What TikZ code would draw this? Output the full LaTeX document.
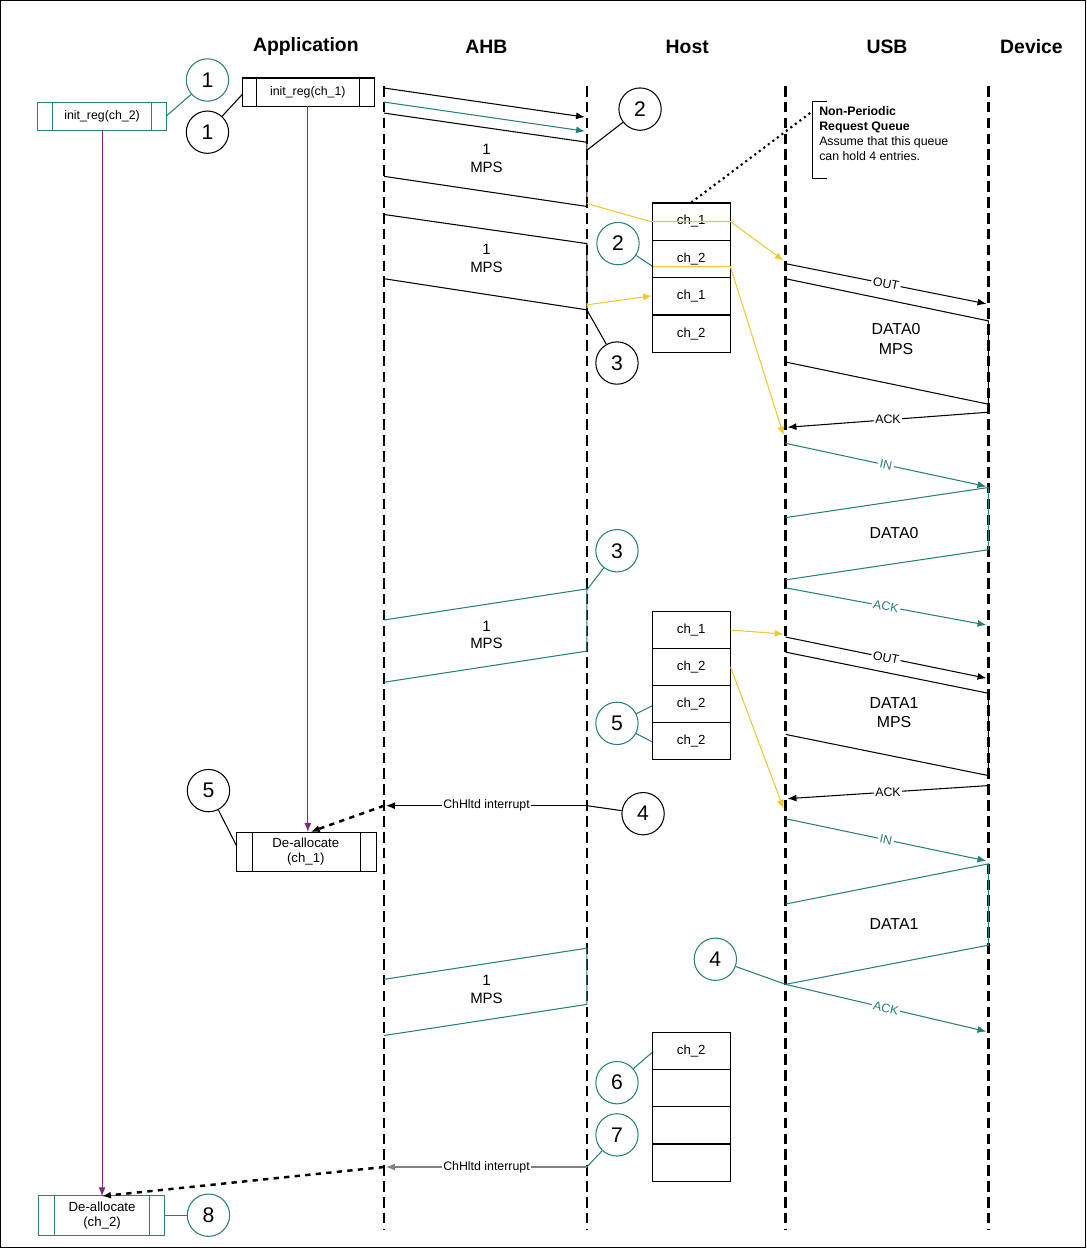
\documentclass[tikz,border=0pt]{standalone}
\usepackage{fontspec}
\setmainfont{Liberation Sans}
\usetikzlibrary{arrows.meta}
\definecolor{tealc}{RGB}{40,128,122}
\definecolor{yelc}{RGB}{240,200,50}
\definecolor{purc}{RGB}{128,40,128}
\begin{document}
\begin{tikzpicture}[x=0.02cm,y=-0.02cm,>={Latex[length=5pt,width=4pt]},line width=0.6pt]
	\tikzstyle{lifeline}=[dashed,line width=1.4pt,dash pattern=on 6pt off 3pt]
	\tikzstyle{head}=[font=\fontsize{11}{13}\selectfont\bfseries]
	\tikzstyle{num}=[circle,draw,minimum size=24pt,inner sep=0pt,font=\fontsize{12}{14}\selectfont]
	\tikzstyle{lbl}=[font=\fontsize{8.5}{10}\selectfont,align=center]
	\tikzstyle{small}=[font=\fontsize{7}{8}\selectfont,fill=white,inner sep=1pt]
	\tikzstyle{cell}=[draw,minimum width=44pt,minimum height=21pt,inner sep=0pt,font=\fontsize{7.5}{9}\selectfont]
	\tikzstyle{yel}=[draw=yelc,->,>={Latex[length=5pt,width=4pt]},yelc]

	\draw[line width=0.8pt] (3,3) rectangle (1084,1245);

	% lane headers and lifelines
	\node[head] (hApp) at (307,49) {Application};
	\foreach \name/\x in {AHB/385,Host/587,USB/785,Dev/987}
	\draw[lifeline] (\x,88) coordinate (\name-t) -- (\x,1228) coordinate (\name-b);
	\node[head] (hAHB) at (487,49) {AHB};
	\node[head] (hHost) at (687,49) {Host};
	\node[head] (hUSB) at (886,49) {USB};
	\node[head] (hDev) at (1030,49) {Device};

	% application boxes
	\draw[tealc] (40,104) rectangle (168,132) (55,104) -- (55,132) (153,104) -- (153,132);
	\node[small,fill=none] (ir2) at (104,118) {init\_reg(ch\_2)};
	\draw (244,80) rectangle (375,108) (258,80) -- (258,108) (360,80) -- (360,108);
	\node[small,fill=none] (ir1) at (309,94) {init\_reg(ch\_1)};
	\draw (238,832) rectangle (377,871) (254,832) -- (254,871) (361,832) -- (361,871);
	\node[lbl,font=\fontsize{7.5}{8.5}\selectfont] (da1) at (307,851) {De-allocate\\(ch\_1)};
	\draw[tealc] (41,1193) rectangle (166,1233) (57,1193) -- (57,1233) (151,1193) -- (151,1233);
	\node[lbl,font=\fontsize{7.5}{8.5}\selectfont] (da2) at (104,1213) {De-allocate\\(ch\_2)};
	\draw[purc,->] (104,132) -- (104,1194);
	\draw[purc,->] (309,108) -- (309,831);

	% numbered circles
	\node[num,draw=tealc] (c1t) at (209,82) {1};
	\node[num] (c1b) at (209,134) {1};
	\node[num] (c2b) at (640,111) {2};
	\node[num] (c3b) at (617,364) {3};
	\node[num,draw=tealc] (c2t) at (618,245) {2};
	\node[num,draw=tealc] (c3t) at (617,551) {3};
	\node[num,draw=tealc] (c5t) at (617,723) {5};
	\node[num] (c4b) at (643,813) {4};
	\node[num] (c5b) at (210,790) {5};
	\node[num,draw=tealc] (c4t) at (715,958) {4};
	\node[num,draw=tealc] (c6t) at (617,1081) {6};
	\node[num,draw=tealc] (c7t) at (617,1133) {7};
	\node[num,draw=tealc] (c8t) at (210,1213) {8};
	\draw[tealc] (c1t) -- (168,118);
	\draw (c1b) -- (244,96);
	\draw (c2b) -- (587,152);
	\draw (c3b) -- (587,311);
	\draw[tealc] (c2t) -- (653,268);
	\draw[tealc] (c3t) -- (587,590);
	\draw[tealc] (c5t) -- (653,705) (c5t) -- (653,742);
	\draw (c5b) -- (238,845);
	\draw[tealc] (c6t) -- (653,1050);
	\draw[tealc] (c7t) -- (587,1165);
	\draw[tealc] (c8t) -- (166,1213);

	% AHB transfers
	\draw[->] (385,90) -- (585,119);
	\draw[tealc,->] (385,104) -- (585,133);
	\draw (385,115) -- (587,144) -- (587,208) -- (385,178);
	\node[lbl] (m1) at (487,160) {1\\MPS};
	\draw (385,216) -- (587,245) -- (587,311) -- (385,280);
	\node[lbl] (m2) at (487,260) {1\\MPS};
	\draw[tealc] (385,620) -- (587,589) -- (587,651) -- (385,682);
	\node[lbl] (m3) at (487,635) {1\\MPS};
	\draw[tealc] (385,978) -- (587,947) -- (587,1003) -- (385,1034);
	\node[lbl] (m4) at (487,988) {1\\MPS};

	% request queues
	\foreach \name/\y/\t in {q1/223/ch\_1,q2/260/ch\_2,q3/297/ch\_1,q4/335/ch\_2,
		r1/630/ch\_1,r2/667/ch\_2,r3/704/ch\_2,r4/741/ch\_2,
		s1/1049/ch\_2,s2/1086/,s3/1123/,s4/1161/}
	\node[cell] (\name) at (691,\y) {\t};
	\draw[dotted,line width=1.2pt] (q1.north) -- (812,113);
	\draw (826,103) -- (812,103) -- (812,180) -- (826,180);
	\node[anchor=north west,inner sep=0pt,font=\fontsize{7}{8.5}\selectfont,align=left] (note) at (818,108)
	{\textbf{Non-Periodic}\\\textbf{Request Queue}\\Assume that this queue\\can hold 4 entries.};

	% yellow scheduling
	\draw[yel] (587,205) -- (650,223) -- (730,223) -- (783,262);
	\draw[yel] (653,268) -- (730,268) -- (783,436);
	\draw[yel] (587,306) -- (q3.west);
	\draw[yel] (r1.east) -- (783,634);
	\draw[yel] (r2.east) -- (783,808);

	% USB traffic
	\draw[->] (785,265) -- node[small,sloped] {OUT} (985,305);
	\draw (785,280) -- (987,322) -- (987,405) -- (785,363);
	\node[lbl,font=\fontsize{9}{11}\selectfont] (d0) at (895,340) {DATA0\\MPS};
	\draw[->] (987,413) -- node[small] {ACK} (787,428);
	\draw[tealc,->] (785,444) -- node[small,sloped] {IN} (985,487);
	\draw[tealc] (785,518) -- (987,488) -- (987,550) -- (785,580);
	\node[lbl,font=\fontsize{9}{11}\selectfont] (d0b) at (893,533) {DATA0};
	\draw[tealc,->] (785,588) -- node[small,sloped] {ACK} (985,625);
	\draw[->] (785,637) -- node[small,sloped] {OUT} (985,678);
	\draw (785,652) -- (987,693) -- (987,775) -- (785,734);
	\node[lbl,font=\fontsize{9}{11}\selectfont] (d1) at (893,712) {DATA1\\MPS};
	\draw[->] (987,785) -- node[small] {ACK} (787,798);
	\draw[tealc,->] (785,818) -- node[small,sloped] {IN} (985,860);
	\draw[tealc] (785,903) -- (987,863) -- (987,944) -- (785,983);
	\node[lbl,font=\fontsize{9}{11}\selectfont] (d1b) at (893,923) {DATA1};
	\draw[tealc] (c4t) -- (785,983);
	\draw[tealc,->] (785,983) -- node[small,sloped] {ACK} (985,1030);

	% interrupts
	\draw (c4b) -- (587,805);
	\draw[->] (587,805) -- node[small] {ChHltd interrupt} (387,805);
	\draw[dashed,line width=1.4pt,->] (385,805) -- (da1.north west -| 312,832);
	\draw[gray,->] (587,1165) -- node[small,text=black] {ChHltd interrupt} (387,1165);
	\draw[dashed,line width=1.4pt,->] (385,1165) -- (104,1194);
\end{tikzpicture}
\end{document}
